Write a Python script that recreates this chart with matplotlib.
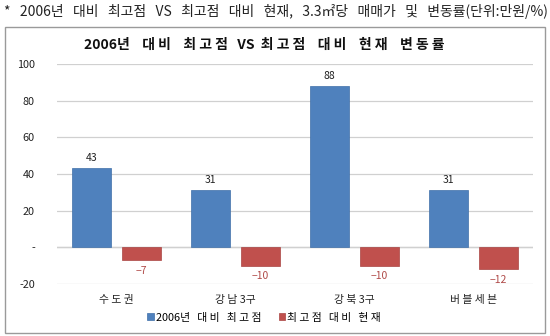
import numpy as np
import matplotlib
matplotlib.use('Agg')
import matplotlib.pyplot as plt
from matplotlib.patches import Rectangle

plt.rcParams['font.family'] = ['Noto Sans CJK KR', 'DejaVu Sans']

categories = ['수 도 권', '강 남 3구', '강 북 3구', '버 블 세 븐']
peak_vs_2006 = [43, 31, 88, 31]
now_vs_peak = [-7, -10, -10, -12]
series_names = ['2006년   대 비   최 고 점', '최 고 점   대 비   현 재']
y_ticks = [-20, 0, 20, 40, 60, 80, 100]
y_tick_labels = ['-20', '-', '20', '40', '60', '80', '100']

blue = '#4F81BD'
red = '#C0504D'

fig = plt.figure(figsize=(5.5, 3.36), dpi=100)
fig.patch.set_facecolor('white')

# chart frame
fig.patches.append(Rectangle((0.009, 0.009), 0.982, 0.911, transform=fig.transFigure,
                             fill=False, edgecolor='#9a9a9a', linewidth=1.0))

fig.text(0.008, 0.965, '*   2006년   대비   최고점   VS   최고점   대비   현재,   3.3㎡당   매매가   및   변동률(단위:만원/%)',
         fontsize=10, color='#222222', va='center', ha='left')
fig.text(0.48, 0.866, '2006년    대 비    최 고 점   VS  최 고 점    대 비    현 재    변 동 률',
         fontsize=10, fontweight='bold', ha='center', va='center', color='#111111')

ax = fig.add_axes([0.1036, 0.1548, 0.8655, 0.6547])
x = np.arange(len(categories))
w = 0.33
off = 0.21
b1 = ax.bar(x - off, peak_vs_2006, w, color=blue, edgecolor='#3f6fa8', linewidth=0.5,
            label=series_names[0], zorder=3)
b2 = ax.bar(x + off, now_vs_peak, w, color=red, edgecolor='#a94442', linewidth=0.5,
            label=series_names[1], zorder=3)

for xi, v in zip(x - off, peak_vs_2006):
    ax.text(xi, v + 3, str(v), ha='center', va='bottom', fontsize=7.5, color='#222222')
for xi, v in zip(x + off, now_vs_peak):
    ax.text(xi, v - 3, '\u2212' + str(abs(v)), ha='center', va='top', fontsize=7.5, color='#b04a48')

ax.set_xlim(-0.5, len(categories) - 0.5)
ax.set_ylim(-20, 100)
ax.set_yticks(y_ticks)
ax.set_yticklabels(y_tick_labels, fontsize=7.8, color='#222222')
ax.set_xticks(x)
ax.set_xticklabels(categories, fontsize=7.8, color='#222222')
ax.tick_params(length=0, pad=16)
ax.tick_params(axis='x', pad=8)
ax.yaxis.grid(True, color='#d0d0d0', linewidth=0.9, zorder=0)
ax.axhline(0, color='#b8b8b8', linewidth=0.9, zorder=1)
for s in ax.spines.values():
    s.set_visible(False)

fig.legend(handles=[b1, b2], labels=series_names, loc='center', bbox_to_anchor=(0.48, 0.055),
           ncol=2, frameon=False, fontsize=7.8, handlelength=0.6, handleheight=0.6,
           handletextpad=0.2, columnspacing=1.6)

fig.savefig('out.png', dpi=100)
